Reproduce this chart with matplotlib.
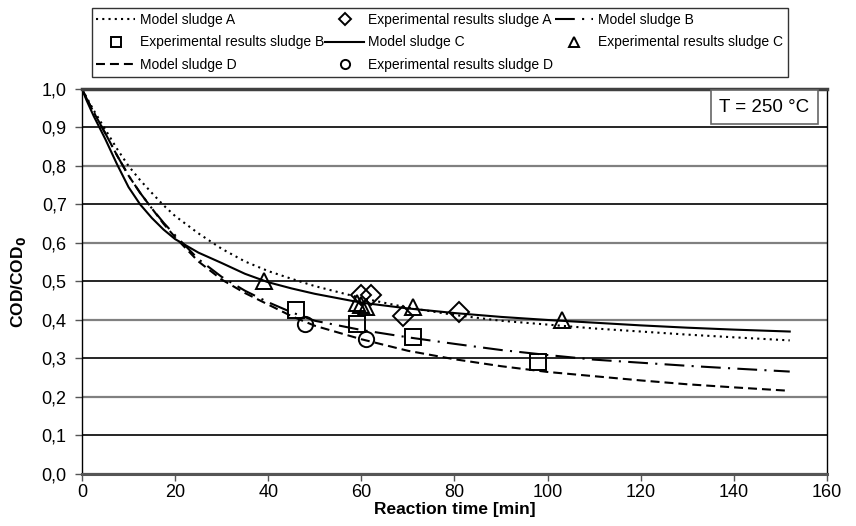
import numpy as np
import matplotlib
matplotlib.use('Agg')
import matplotlib.pyplot as plt

plt.rcParams['font.family'] = ['Liberation Sans', 'DejaVu Sans']

# --------------------------------------------------------------
# Data
# --------------------------------------------------------------
t_model = [0, 1, 2.5, 5, 7.5, 10, 12.5, 15, 17.5, 20, 25, 30, 35, 40, 45,
           50, 60, 70, 80, 90, 100, 110, 120, 130, 140, 152]

model_a = [1.0, 0.978, 0.945, 0.895, 0.845, 0.80, 0.763, 0.73, 0.698, 0.67,
           0.625, 0.585, 0.552, 0.527, 0.507, 0.488, 0.457, 0.432, 0.413,
           0.398, 0.388, 0.378, 0.370, 0.362, 0.355, 0.347]
model_b = [1.0, 0.975, 0.94, 0.885, 0.828, 0.775, 0.73, 0.69, 0.653, 0.62,
           0.558, 0.512, 0.476, 0.446, 0.42, 0.398, 0.374, 0.355, 0.338,
           0.322, 0.309, 0.297, 0.289, 0.281, 0.274, 0.266]
model_c = [1.0, 0.97, 0.93, 0.87, 0.805, 0.745, 0.70, 0.665, 0.635, 0.61,
           0.575, 0.548, 0.52, 0.498, 0.482, 0.468, 0.445, 0.43, 0.418,
           0.408, 0.40, 0.393, 0.386, 0.38, 0.375, 0.37]
model_d = [1.0, 0.975, 0.94, 0.885, 0.828, 0.775, 0.73, 0.69, 0.65, 0.615,
           0.552, 0.505, 0.47, 0.44, 0.41, 0.385, 0.35, 0.32, 0.298, 0.28,
           0.265, 0.254, 0.243, 0.233, 0.225, 0.216]

t_exp_a = [60, 62, 69, 81]
exp_a = [0.465, 0.465, 0.41, 0.42]
t_exp_b = [46, 59, 71, 98]
exp_b = [0.425, 0.39, 0.355, 0.29]
t_exp_c = [39, 59, 60, 61, 71, 103]
exp_c = [0.50, 0.445, 0.44, 0.435, 0.435, 0.40]
t_exp_d = [48, 61]
exp_d = [0.39, 0.35]

x_ticks = [0, 20, 40, 60, 80, 100, 120, 140, 160]
y_ticks = np.round(np.arange(0, 1.01, 0.1), 1)

# --------------------------------------------------------------
# Figure
# --------------------------------------------------------------
fig = plt.figure(figsize=(8.56, 5.26), dpi=100)
ax = fig.add_axes([0.0958, 0.0989, 0.8703, 0.7319])

lw = 1.5
h_ma, = ax.plot(t_model, model_a, color='black', lw=lw, ls=(0, (1, 2)),
                label='Model sludge A')
h_mb, = ax.plot(t_model, model_b, color='black', lw=lw,
                ls=(0, (9.5, 3.5, 1, 3.5)), label='Model sludge B')
h_mc, = ax.plot(t_model, model_c, color='black', lw=lw, ls='-',
                label='Model sludge C')
h_md, = ax.plot(t_model, model_d, color='black', lw=lw, ls=(0, (4.3, 2.4)),
                label='Model sludge D')

mk = dict(ls='none', mfc='none', mec='black', mew=1.4, ms=11)
h_ea, = ax.plot(t_exp_a, exp_a, marker='D', label='Experimental results sludge A',
                **{**mk, 'ms': 10})
h_eb, = ax.plot(t_exp_b, exp_b, marker='s', label='Experimental results sludge B', **mk)
h_ec, = ax.plot(t_exp_c, exp_c, marker='^', label='Experimental results sludge C', **mk)
h_ed, = ax.plot(t_exp_d, exp_d, marker='o', label='Experimental results sludge D', **mk)

ax.set_xlim(0, 160)
ax.set_ylim(0, 1.0)
ax.set_xticks(x_ticks)
ax.set_yticks(y_ticks)
ax.set_yticklabels([f'{v:.1f}'.replace('.', ',') for v in y_ticks])
ax.tick_params(axis='both', labelsize=13, direction='out', length=5,
               color='#555555', width=1)
ax.tick_params(axis='y', pad=6)
ax.tick_params(axis='x', pad=2)

# alternating grid lines like the original
ax.yaxis.grid(True, zorder=0)
for v, gl in zip(y_ticks, ax.get_ygridlines()):
    if round(v * 10) % 2 == 1:
        gl.set_color('black')
        gl.set_linewidth(1.2)
    else:
        gl.set_color('#808080')
        gl.set_linewidth(1.6)
ax.set_axisbelow(True)

ax.spines['top'].set_color('#404040')
ax.spines['top'].set_linewidth(2.5)
ax.spines['bottom'].set_color('#555555')
ax.spines['bottom'].set_linewidth(2.2)
ax.spines['left'].set_color('black')
ax.spines['left'].set_linewidth(1.0)
ax.spines['right'].set_color('black')
ax.spines['right'].set_linewidth(1.0)

ax.set_xlabel('Reaction time [min]', fontsize=12.5, fontweight='bold')
ax.xaxis.set_label_coords(0.5, -0.072)
ax.set_ylabel('COD/COD$_\\mathbf{0}$', fontsize=12.5, fontweight='bold')
ax.yaxis.set_label_coords(-0.072, 0.5)

ax.text(0.916, 0.953, 'T = 250 °C', transform=ax.transAxes, fontsize=13.5,
        ha='center', va='center',
        bbox=dict(boxstyle='square,pad=0.45', fc='white', ec='#666666', lw=1.2))

# legend laid out row-wise like the original (matplotlib fills columns)
handles = [h_ma, h_eb, h_md, h_ea, h_mc, h_ed, h_mb, h_ec]
leg = fig.legend(handles=handles, labels=[h.get_label() for h in handles],
                 ncol=3, loc='upper left', bbox_to_anchor=(0.107, 0.985),
                 fontsize=10, frameon=True, fancybox=False, edgecolor='black',
                 handlelength=2.8, handletextpad=0.3, columnspacing=0.1,
                 labelspacing=0.62, borderpad=0.35, markerscale=0.6,
                 borderaxespad=0)
leg.get_frame().set_linewidth(1.0)

fig.savefig('out.png', dpi=100)
